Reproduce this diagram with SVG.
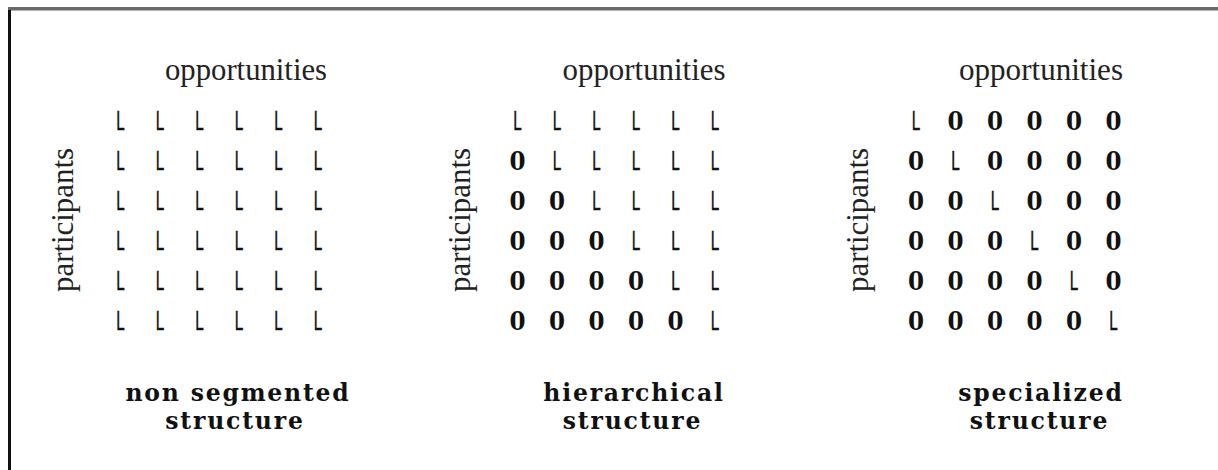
<svg xmlns="http://www.w3.org/2000/svg" width="1218" height="470" viewBox="0 0 1218 470">
  <style>
    .axis { font-family: "Liberation Serif", "Times New Roman", serif; font-size: 31px; fill: #222; }
    .title { font-family: "DejaVu Serif", "Liberation Serif", serif; font-weight: bold; font-size: 23.5px; letter-spacing: 1.8px; fill: #111; text-anchor: middle; }
    .l { font-family: "Liberation Sans", Arial, sans-serif; font-size: 28px; fill: #111; stroke: #111; stroke-width: 0.5; text-anchor: middle; }
    .o { font-family: "DejaVu Serif", "Liberation Serif", serif; font-weight: bold; font-size: 26px; fill: #111; text-anchor: middle; }
  </style>
  <rect width="1218" height="470" fill="#fff"/>

  <!-- frame: top and left rules only -->
  <g id="frame">
    <rect x="8" y="7" width="1210" height="3.5" fill="#6a6a6a"/>
    <rect x="8" y="10" width="3" height="460" fill="#111"/>
  </g>

  <!-- panel 1: every participant linked to every opportunity -->
  <g id="non-segmented">
    <text class="axis" x="246" y="80" text-anchor="middle" textLength="162" lengthAdjust="spacingAndGlyphs">opportunities</text>
    <text class="axis" transform="translate(73,220) rotate(-90)" text-anchor="middle" textLength="144" lengthAdjust="spacingAndGlyphs">participants</text>
    <g id="grid-1">
      <text class="l" x="120.5" y="130" textLength="8.5" lengthAdjust="spacingAndGlyphs">L</text>
      <text class="l" x="160" y="130" textLength="8.5" lengthAdjust="spacingAndGlyphs">L</text>
      <text class="l" x="199.5" y="130" textLength="8.5" lengthAdjust="spacingAndGlyphs">L</text>
      <text class="l" x="239" y="130" textLength="8.5" lengthAdjust="spacingAndGlyphs">L</text>
      <text class="l" x="278.5" y="130" textLength="8.5" lengthAdjust="spacingAndGlyphs">L</text>
      <text class="l" x="318" y="130" textLength="8.5" lengthAdjust="spacingAndGlyphs">L</text>

      <text class="l" x="120.5" y="170" textLength="8.5" lengthAdjust="spacingAndGlyphs">L</text>
      <text class="l" x="160" y="170" textLength="8.5" lengthAdjust="spacingAndGlyphs">L</text>
      <text class="l" x="199.5" y="170" textLength="8.5" lengthAdjust="spacingAndGlyphs">L</text>
      <text class="l" x="239" y="170" textLength="8.5" lengthAdjust="spacingAndGlyphs">L</text>
      <text class="l" x="278.5" y="170" textLength="8.5" lengthAdjust="spacingAndGlyphs">L</text>
      <text class="l" x="318" y="170" textLength="8.5" lengthAdjust="spacingAndGlyphs">L</text>

      <text class="l" x="120.5" y="210" textLength="8.5" lengthAdjust="spacingAndGlyphs">L</text>
      <text class="l" x="160" y="210" textLength="8.5" lengthAdjust="spacingAndGlyphs">L</text>
      <text class="l" x="199.5" y="210" textLength="8.5" lengthAdjust="spacingAndGlyphs">L</text>
      <text class="l" x="239" y="210" textLength="8.5" lengthAdjust="spacingAndGlyphs">L</text>
      <text class="l" x="278.5" y="210" textLength="8.5" lengthAdjust="spacingAndGlyphs">L</text>
      <text class="l" x="318" y="210" textLength="8.5" lengthAdjust="spacingAndGlyphs">L</text>

      <text class="l" x="120.5" y="250" textLength="8.5" lengthAdjust="spacingAndGlyphs">L</text>
      <text class="l" x="160" y="250" textLength="8.5" lengthAdjust="spacingAndGlyphs">L</text>
      <text class="l" x="199.5" y="250" textLength="8.5" lengthAdjust="spacingAndGlyphs">L</text>
      <text class="l" x="239" y="250" textLength="8.5" lengthAdjust="spacingAndGlyphs">L</text>
      <text class="l" x="278.5" y="250" textLength="8.5" lengthAdjust="spacingAndGlyphs">L</text>
      <text class="l" x="318" y="250" textLength="8.5" lengthAdjust="spacingAndGlyphs">L</text>

      <text class="l" x="120.5" y="290" textLength="8.5" lengthAdjust="spacingAndGlyphs">L</text>
      <text class="l" x="160" y="290" textLength="8.5" lengthAdjust="spacingAndGlyphs">L</text>
      <text class="l" x="199.5" y="290" textLength="8.5" lengthAdjust="spacingAndGlyphs">L</text>
      <text class="l" x="239" y="290" textLength="8.5" lengthAdjust="spacingAndGlyphs">L</text>
      <text class="l" x="278.5" y="290" textLength="8.5" lengthAdjust="spacingAndGlyphs">L</text>
      <text class="l" x="318" y="290" textLength="8.5" lengthAdjust="spacingAndGlyphs">L</text>

      <text class="l" x="120.5" y="330" textLength="8.5" lengthAdjust="spacingAndGlyphs">L</text>
      <text class="l" x="160" y="330" textLength="8.5" lengthAdjust="spacingAndGlyphs">L</text>
      <text class="l" x="199.5" y="330" textLength="8.5" lengthAdjust="spacingAndGlyphs">L</text>
      <text class="l" x="239" y="330" textLength="8.5" lengthAdjust="spacingAndGlyphs">L</text>
      <text class="l" x="278.5" y="330" textLength="8.5" lengthAdjust="spacingAndGlyphs">L</text>
      <text class="l" x="318" y="330" textLength="8.5" lengthAdjust="spacingAndGlyphs">L</text>
    </g>
    <text class="title" x="238" y="401">non segmented</text>
    <text class="title" x="235" y="429">structure</text>
  </g>

  <!-- panel 2: lower triangle blocked -->
  <g id="hierarchical">
    <text class="axis" x="644" y="80" text-anchor="middle" textLength="163" lengthAdjust="spacingAndGlyphs">opportunities</text>
    <text class="axis" transform="translate(470,220) rotate(-90)" text-anchor="middle" textLength="144" lengthAdjust="spacingAndGlyphs">participants</text>
    <g id="grid-2">
      <text class="l" x="517.5" y="130" textLength="8.5" lengthAdjust="spacingAndGlyphs">L</text>
      <text class="l" x="557" y="130" textLength="8.5" lengthAdjust="spacingAndGlyphs">L</text>
      <text class="l" x="596.5" y="130" textLength="8.5" lengthAdjust="spacingAndGlyphs">L</text>
      <text class="l" x="636" y="130" textLength="8.5" lengthAdjust="spacingAndGlyphs">L</text>
      <text class="l" x="675.5" y="130" textLength="8.5" lengthAdjust="spacingAndGlyphs">L</text>
      <text class="l" x="715" y="130" textLength="8.5" lengthAdjust="spacingAndGlyphs">L</text>

      <text class="o" x="517.5" y="170" textLength="16" lengthAdjust="spacingAndGlyphs">0</text>
      <text class="l" x="557" y="170" textLength="8.5" lengthAdjust="spacingAndGlyphs">L</text>
      <text class="l" x="596.5" y="170" textLength="8.5" lengthAdjust="spacingAndGlyphs">L</text>
      <text class="l" x="636" y="170" textLength="8.5" lengthAdjust="spacingAndGlyphs">L</text>
      <text class="l" x="675.5" y="170" textLength="8.5" lengthAdjust="spacingAndGlyphs">L</text>
      <text class="l" x="715" y="170" textLength="8.5" lengthAdjust="spacingAndGlyphs">L</text>

      <text class="o" x="517.5" y="210" textLength="16" lengthAdjust="spacingAndGlyphs">0</text>
      <text class="o" x="557" y="210" textLength="16" lengthAdjust="spacingAndGlyphs">0</text>
      <text class="l" x="596.5" y="210" textLength="8.5" lengthAdjust="spacingAndGlyphs">L</text>
      <text class="l" x="636" y="210" textLength="8.5" lengthAdjust="spacingAndGlyphs">L</text>
      <text class="l" x="675.5" y="210" textLength="8.5" lengthAdjust="spacingAndGlyphs">L</text>
      <text class="l" x="715" y="210" textLength="8.5" lengthAdjust="spacingAndGlyphs">L</text>

      <text class="o" x="517.5" y="250" textLength="16" lengthAdjust="spacingAndGlyphs">0</text>
      <text class="o" x="557" y="250" textLength="16" lengthAdjust="spacingAndGlyphs">0</text>
      <text class="o" x="596.5" y="250" textLength="16" lengthAdjust="spacingAndGlyphs">0</text>
      <text class="l" x="636" y="250" textLength="8.5" lengthAdjust="spacingAndGlyphs">L</text>
      <text class="l" x="675.5" y="250" textLength="8.5" lengthAdjust="spacingAndGlyphs">L</text>
      <text class="l" x="715" y="250" textLength="8.5" lengthAdjust="spacingAndGlyphs">L</text>

      <text class="o" x="517.5" y="290" textLength="16" lengthAdjust="spacingAndGlyphs">0</text>
      <text class="o" x="557" y="290" textLength="16" lengthAdjust="spacingAndGlyphs">0</text>
      <text class="o" x="596.5" y="290" textLength="16" lengthAdjust="spacingAndGlyphs">0</text>
      <text class="o" x="636" y="290" textLength="16" lengthAdjust="spacingAndGlyphs">0</text>
      <text class="l" x="675.5" y="290" textLength="8.5" lengthAdjust="spacingAndGlyphs">L</text>
      <text class="l" x="715" y="290" textLength="8.5" lengthAdjust="spacingAndGlyphs">L</text>

      <text class="o" x="517.5" y="330" textLength="16" lengthAdjust="spacingAndGlyphs">0</text>
      <text class="o" x="557" y="330" textLength="16" lengthAdjust="spacingAndGlyphs">0</text>
      <text class="o" x="596.5" y="330" textLength="16" lengthAdjust="spacingAndGlyphs">0</text>
      <text class="o" x="636" y="330" textLength="16" lengthAdjust="spacingAndGlyphs">0</text>
      <text class="o" x="675.5" y="330" textLength="16" lengthAdjust="spacingAndGlyphs">0</text>
      <text class="l" x="715" y="330" textLength="8.5" lengthAdjust="spacingAndGlyphs">L</text>
    </g>
    <text class="title" x="634" y="401">hierarchical</text>
    <text class="title" x="632.5" y="429">structure</text>
  </g>

  <!-- panel 3: diagonal only -->
  <g id="specialized">
    <text class="axis" x="1041" y="80" text-anchor="middle" textLength="164" lengthAdjust="spacingAndGlyphs">opportunities</text>
    <text class="axis" transform="translate(868,220) rotate(-90)" text-anchor="middle" textLength="144" lengthAdjust="spacingAndGlyphs">participants</text>
    <g id="grid-3">
      <text class="l" x="916" y="130" textLength="8.5" lengthAdjust="spacingAndGlyphs">L</text>
      <text class="o" x="955.5" y="130" textLength="16" lengthAdjust="spacingAndGlyphs">0</text>
      <text class="o" x="995" y="130" textLength="16" lengthAdjust="spacingAndGlyphs">0</text>
      <text class="o" x="1034.5" y="130" textLength="16" lengthAdjust="spacingAndGlyphs">0</text>
      <text class="o" x="1074" y="130" textLength="16" lengthAdjust="spacingAndGlyphs">0</text>
      <text class="o" x="1113.5" y="130" textLength="16" lengthAdjust="spacingAndGlyphs">0</text>

      <text class="o" x="916" y="170" textLength="16" lengthAdjust="spacingAndGlyphs">0</text>
      <text class="l" x="955.5" y="170" textLength="8.5" lengthAdjust="spacingAndGlyphs">L</text>
      <text class="o" x="995" y="170" textLength="16" lengthAdjust="spacingAndGlyphs">0</text>
      <text class="o" x="1034.5" y="170" textLength="16" lengthAdjust="spacingAndGlyphs">0</text>
      <text class="o" x="1074" y="170" textLength="16" lengthAdjust="spacingAndGlyphs">0</text>
      <text class="o" x="1113.5" y="170" textLength="16" lengthAdjust="spacingAndGlyphs">0</text>

      <text class="o" x="916" y="210" textLength="16" lengthAdjust="spacingAndGlyphs">0</text>
      <text class="o" x="955.5" y="210" textLength="16" lengthAdjust="spacingAndGlyphs">0</text>
      <text class="l" x="995" y="210" textLength="8.5" lengthAdjust="spacingAndGlyphs">L</text>
      <text class="o" x="1034.5" y="210" textLength="16" lengthAdjust="spacingAndGlyphs">0</text>
      <text class="o" x="1074" y="210" textLength="16" lengthAdjust="spacingAndGlyphs">0</text>
      <text class="o" x="1113.5" y="210" textLength="16" lengthAdjust="spacingAndGlyphs">0</text>

      <text class="o" x="916" y="250" textLength="16" lengthAdjust="spacingAndGlyphs">0</text>
      <text class="o" x="955.5" y="250" textLength="16" lengthAdjust="spacingAndGlyphs">0</text>
      <text class="o" x="995" y="250" textLength="16" lengthAdjust="spacingAndGlyphs">0</text>
      <text class="l" x="1034.5" y="250" textLength="8.5" lengthAdjust="spacingAndGlyphs">L</text>
      <text class="o" x="1074" y="250" textLength="16" lengthAdjust="spacingAndGlyphs">0</text>
      <text class="o" x="1113.5" y="250" textLength="16" lengthAdjust="spacingAndGlyphs">0</text>

      <text class="o" x="916" y="290" textLength="16" lengthAdjust="spacingAndGlyphs">0</text>
      <text class="o" x="955.5" y="290" textLength="16" lengthAdjust="spacingAndGlyphs">0</text>
      <text class="o" x="995" y="290" textLength="16" lengthAdjust="spacingAndGlyphs">0</text>
      <text class="o" x="1034.5" y="290" textLength="16" lengthAdjust="spacingAndGlyphs">0</text>
      <text class="l" x="1074" y="290" textLength="8.5" lengthAdjust="spacingAndGlyphs">L</text>
      <text class="o" x="1113.5" y="290" textLength="16" lengthAdjust="spacingAndGlyphs">0</text>

      <text class="o" x="916" y="330" textLength="16" lengthAdjust="spacingAndGlyphs">0</text>
      <text class="o" x="955.5" y="330" textLength="16" lengthAdjust="spacingAndGlyphs">0</text>
      <text class="o" x="995" y="330" textLength="16" lengthAdjust="spacingAndGlyphs">0</text>
      <text class="o" x="1034.5" y="330" textLength="16" lengthAdjust="spacingAndGlyphs">0</text>
      <text class="o" x="1074" y="330" textLength="16" lengthAdjust="spacingAndGlyphs">0</text>
      <text class="l" x="1113.5" y="330" textLength="8.5" lengthAdjust="spacingAndGlyphs">L</text>
    </g>
    <text class="title" x="1041" y="401">specialized</text>
    <text class="title" x="1039.5" y="429">structure</text>
  </g>
</svg>
